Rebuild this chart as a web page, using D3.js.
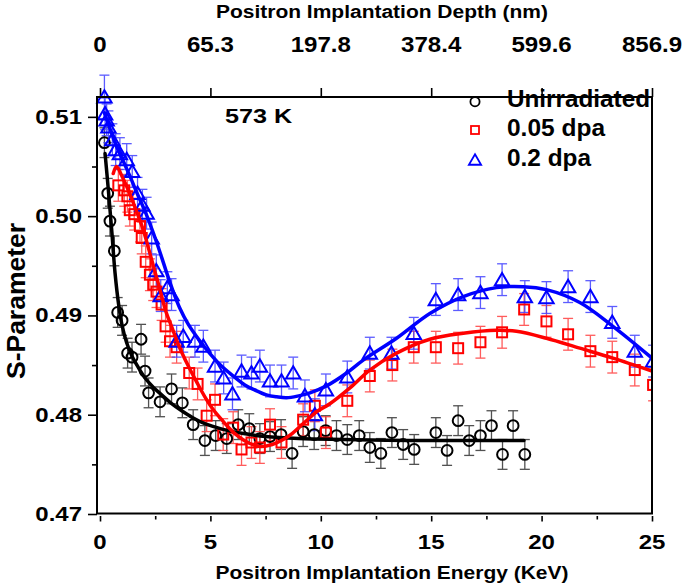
<!DOCTYPE html>
<html>
<head>
<meta charset="utf-8">
<script src="https://cdn.jsdelivr.net/npm/d3@7"></script>
<style>
  html, body { margin: 0; padding: 0; background: #fff; }
  svg { display: block; }
  text { font-family: "Liberation Sans", Arial, sans-serif; font-weight: bold; fill: #000; }
</style>
</head>
<body>
<svg id="chart" width="685" height="588"></svg>
<script>
// ---------------- data ----------------
const seriesNames = ["Unirradiated", "0.05 dpa", "0.2 dpa"];
const seriesColors = ["#000000", "#ff0000", "#0000ff"];
const errColors = ["#333333", "#ff4040", "#4040ff"];

// [energy keV, S-parameter]
const unirradiated = [
  [0.2,0.5074],[0.35,0.5023],[0.45,0.4995],[0.65,0.4965],[0.8,0.4903],[1.0,0.4895],
  [1.25,0.4862],[1.45,0.4858],[1.86,0.4876],[2.04,0.4844],[2.2,0.4822],[2.72,0.4813],
  [3.24,0.4826],[3.73,0.4812],[4.22,0.4790],[4.75,0.4774],[5.24,0.4779],[5.74,0.4776],
  [6.26,0.4790],[6.76,0.4786],[7.24,0.4776],[7.7,0.4778],[8.2,0.4780],[8.7,0.4761],
  [9.2,0.4783],[9.7,0.4780],[10.22,0.4784],[10.71,0.4779],[11.2,0.4775],[11.74,0.4779],
  [12.22,0.4767],[12.72,0.4761],[13.22,0.4782],[13.73,0.4770],[14.23,0.4765],
  [15.21,0.4782],[15.72,0.4764],[16.22,0.4794],[16.72,0.4774],[17.23,0.4779],
  [17.73,0.4789],[18.23,0.4760],[18.71,0.4789],[19.24,0.4760]
];
const dpa005 = [
  [0.83,0.5031],[1.1,0.5026],[1.24,0.5020],[1.35,0.5006],[1.55,0.5002],[1.81,0.4990],
  [1.89,0.4978],[2.07,0.4954],[2.26,0.4941],[2.41,0.4931],[2.56,0.4924],[2.79,0.4911],
  [2.97,0.4889],[3.17,0.4874],[3.47,0.4868],[4.04,0.4842],[4.42,0.4831],[4.83,0.4799],
  [5.21,0.4815],[5.58,0.4780],[6.03,0.4787],[6.41,0.4765],[6.86,0.4772],[7.24,0.4767],
  [7.7,0.4790],[8.22,0.4772],[9.2,0.4795],[9.73,0.4809],[10.23,0.4782],[11.2,0.4814],
  [12.22,0.4839],[13.24,0.4850],[14.21,0.4868],[15.21,0.4868],[16.22,0.4867],
  [17.23,0.4873],[18.21,0.4883],[19.21,0.4906],[20.22,0.4894],[21.2,0.4881],
  [22.21,0.4864],[23.2,0.4858],[24.22,0.4845],[25.05,0.4830]
];
const dpa02 = [
  [0.2,0.5120],[0.23,0.5103],[0.3,0.5097],[0.38,0.5090],[0.56,0.5077],[0.71,0.5067],
  [0.9,0.5063],[1.21,0.5057],[1.46,0.5045],[1.7,0.5023],[1.92,0.5011],[2.11,0.5003],
  [2.34,0.4978],[2.55,0.4945],[2.75,0.4920],[3.05,0.4928],[3.24,0.4921],[3.47,0.4874],
  [3.77,0.4879],[4.3,0.4874],[4.68,0.4869],[5.21,0.4849],[5.6,0.4837],[6.0,0.4821],
  [6.41,0.4844],[6.86,0.4842],[7.24,0.4849],[7.7,0.4834],[8.22,0.4834],[8.75,0.4842],
  [9.28,0.4819],[9.73,0.4800],[10.23,0.4825],[11.2,0.4838],[12.22,0.4862],[13.2,0.4862],
  [14.21,0.4882],[15.21,0.4916],[16.22,0.4921],[17.23,0.4923],[18.21,0.4936],
  [19.24,0.4919],[20.22,0.4918],[21.2,0.4929],[22.21,0.4919],[23.2,0.4893],
  [24.22,0.4864],[25.05,0.4854]
];
// error bar half-widths
const errUnirr = 0.0015;
const err005 = 0.0016;
const err02 = [0.0022]; // first point, rest use errDefault02
const errDefault02 = 0.0016;

// fitted curves
const fitUnirr = [
  [0.23,0.5063],[0.38,0.5026],[0.53,0.4986],[0.68,0.4943],[0.85,0.4910],[1.0,0.4890],
  [1.2,0.4873],[1.43,0.4860],[1.7,0.4849],[2.04,0.4837],[2.4,0.4828],[2.79,0.4820],
  [3.2,0.4812],[3.7,0.4804],[4.2,0.4797],[4.75,0.4791],[5.3,0.4787],[5.8,0.4784],
  [6.5,0.4781],[7.5,0.4778],[9.0,0.4776],[11.0,0.4775],[14.0,0.4774],[17.0,0.4774],[19.2,0.4774]
];
const fit005 = [
  [0.6,0.5043],[0.75,0.5050],[0.98,0.5041],[1.36,0.5022],[1.7,0.5002],[1.96,0.4986],
  [2.34,0.4956],[2.64,0.4932],[3.0,0.4903],[3.24,0.4889],[3.6,0.4868],[4.0,0.4849],
  [4.4,0.4832],[4.75,0.4818],[5.1,0.4806],[5.51,0.4795],[6.11,0.4781],[6.79,0.4771],
  [7.3,0.4768],[7.8,0.4770],[8.3,0.4775],[8.7,0.4781],[9.05,0.4788],[9.4,0.4795],
  [9.81,0.4803],[10.41,0.4811],[11.32,0.4827],[12.22,0.4845],[13.43,0.4862],
  [14.94,0.4876],[16.45,0.4882],[17.95,0.4885],[18.86,0.4884],[20.22,0.4877],
  [21.73,0.4867],[23.23,0.4857],[25.0,0.4844]
];
const fit02 = [
  [0.2,0.5104],[0.5,0.5085],[0.75,0.5070],[1.0,0.5058],[1.36,0.5040],[1.7,0.5022],
  [2.0,0.5007],[2.3,0.4990],[2.56,0.4974],[2.8,0.4958],[3.02,0.4943],[3.3,0.4925],
  [3.6,0.4908],[4.0,0.4891],[4.5,0.4875],[5.0,0.4861],[5.5,0.4849],[6.03,0.4839],
  [6.56,0.4830],[7.0,0.4825],[7.54,0.4820],[8.0,0.4818],[8.45,0.4817],[9.0,0.4819],
  [9.51,0.4822],[10.26,0.4829],[11.17,0.4842],[11.92,0.4855],[13.43,0.4877],
  [14.94,0.4902],[16.45,0.4919],[17.95,0.4928],[19.16,0.4929],[20.22,0.4926],
  [21.73,0.4913],[23.23,0.4889],[25.0,0.4857]
];

const xMajorTicks = [0, 5, 10, 15, 20, 25];
const xMinorTicks = [2.5, 7.5, 12.5, 17.5, 22.5];
const yMajorTicks = [0.47, 0.48, 0.49, 0.50, 0.51];
const yMinorTicks = [0.475, 0.485, 0.495, 0.505];
const yTickLabels = ["0.47", "0.48", "0.49", "0.50", "0.51"];
const topTickLabels = ["0", "65.3", "197.8", "378.4", "599.6", "856.9"];

// ---------------- layout ----------------
const svg = d3.select("#chart");
const L = 97, R = 652, T = 97, B = 513.5;
const x = d3.scaleLinear().domain([-0.136, 25]).range([L, R]);
const y = d3.scaleLinear().domain([0.47, 0.512]).range([514, T]);

svg.append("defs").append("clipPath").attr("id", "clipR")
  .append("rect").attr("x", 0).attr("y", 0).attr("width", R).attr("height", 588);

function stext(g, px, py, str, size, anchor, sx) {
  return g.append("text")
    .attr("transform", `translate(${px},${py}) scale(${sx},1)`)
    .attr("text-anchor", anchor)
    .style("font-size", size + "px")
    .text(str);
}

// ---- axes ----
const yAxisMajor = d3.axisLeft(y).tickValues(yMajorTicks).tickSize(9).tickSizeOuter(0).tickFormat("");
const yAxisMinor = d3.axisLeft(y).tickValues(yMinorTicks).tickSize(5).tickSizeOuter(0).tickFormat("");
const gy1 = svg.append("g").attr("transform", `translate(${L},0)`).call(yAxisMajor);
const gy2 = svg.append("g").attr("transform", `translate(${L},0)`).call(yAxisMinor);

const xAxisMajor = d3.axisBottom(x).tickValues(xMajorTicks).tickSize(5.5).tickSizeOuter(0).tickFormat("");
const xAxisMinor = d3.axisBottom(x).tickValues(xMinorTicks).tickSize(3.5).tickSizeOuter(0).tickFormat("");
const gx1 = svg.append("g").attr("transform", `translate(0,516)`).call(xAxisMajor);
const gx2 = svg.append("g").attr("transform", `translate(0,516)`).call(xAxisMinor);

const xTop = d3.axisTop(x).tickValues(xMajorTicks).tickSize(9).tickSizeOuter(0).tickFormat("");
const gt = svg.append("g").attr("transform", `translate(0,${T})`).call(xTop);

[gy1, gy2, gx1, gx2, gt].forEach(g => {
  g.select(".domain").remove();
  g.selectAll(".tick line").attr("stroke", "#000").attr("stroke-width", 1.6);
});

// tick labels
const lab = svg.append("g");
yMajorTicks.forEach((v, i) => stext(lab, 82, y(v) + 7, yTickLabels[i], 20, "end", 1.2));
xMajorTicks.forEach(v => stext(lab, x(v), 549, String(v), 20, "middle", 1.2));
xMajorTicks.forEach((v, i) => stext(lab, x(v), 52, topTickLabels[i], 21.5, "middle", 1.12));

// axis titles
lab.append("text").attr("x", 392).attr("y", 578.5).attr("text-anchor", "middle")
  .style("font-size", "17.5px").attr("textLength", 353).attr("lengthAdjust", "spacingAndGlyphs")
  .text("Positron Implantation Energy (KeV)");
lab.append("text").attr("x", 382).attr("y", 18).attr("text-anchor", "middle")
  .style("font-size", "18px").attr("textLength", 332).attr("lengthAdjust", "spacingAndGlyphs")
  .text("Positron Implantation Depth (nm)");
lab.append("text").attr("transform", "translate(25,301) scale(1.15,1) rotate(-90)")
  .attr("text-anchor", "middle").style("font-size", "22px")
  .attr("textLength", 156).attr("lengthAdjust", "spacingAndGlyphs")
  .text("S-Parameter");

// annotation
stext(lab, 225, 122.7, "573 K", 21, "start", 1.2);

// ---- markers ----
const plot = svg.append("g").attr("clip-path", "url(#clipR)");

function triPath(s) {
  const w = 7.2 * s, h1 = 6.8 * s, h2 = 5.6 * s;
  return `M0,${-h1}L${w},${h2}L${-w},${h2}Z`;
}

function drawErr(g, data, errFn, color) {
  const cw = 5;
  data.forEach((d, i) => {
    const e = errFn(i);
    const cx = x(d[0]), y1 = y(d[1] - e), y2 = y(d[1] + e);
    g.append("line").attr("x1", cx).attr("x2", cx).attr("y1", y1).attr("y2", y2);
    g.append("line").attr("x1", cx - cw).attr("x2", cx + cw).attr("y1", y1).attr("y2", y1);
    g.append("line").attr("x1", cx - cw).attr("x2", cx + cw).attr("y1", y2).attr("y2", y2);
  });
  g.attr("stroke", color).attr("stroke-width", 1.3).attr("opacity", 0.85);
}

drawErr(plot.append("g"), unirradiated, () => errUnirr, errColors[0]);
drawErr(plot.append("g"), dpa005, () => err005, errColors[1]);
drawErr(plot.append("g"), dpa02, i => (i < err02.length ? err02[i] : errDefault02), errColors[2]);

plot.append("g").selectAll("circle").data(unirradiated).join("circle")
  .attr("cx", d => x(d[0])).attr("cy", d => y(d[1])).attr("r", 5.4)
  .attr("fill", "none").attr("stroke", seriesColors[0]).attr("stroke-width", 2);

plot.append("g").selectAll("rect").data(dpa005).join("rect")
  .attr("x", d => x(d[0]) - 5).attr("y", d => y(d[1]) - 5).attr("width", 10).attr("height", 10)
  .attr("fill", "none").attr("stroke", seriesColors[1]).attr("stroke-width", 2);

plot.append("g").selectAll("path").data(dpa02).join("path")
  .attr("transform", d => `translate(${x(d[0])},${y(d[1])})`).attr("d", triPath(1))
  .attr("fill", "none").attr("stroke", seriesColors[2]).attr("stroke-width", 2).attr("stroke-linejoin", "miter");

// ---- fit lines ----
const line = d3.line().x(d => x(d[0])).y(d => y(d[1])).curve(d3.curveCatmullRom.alpha(0.5));
[fitUnirr, fit005, fit02].forEach((f, i) => {
  plot.append("path").datum(f).attr("d", line).attr("fill", "none")
    .attr("stroke", seriesColors[i]).attr("stroke-width", 3.5).attr("stroke-linecap", "round");
});

// ---- frame ----
svg.append("rect").attr("x", L).attr("y", T).attr("width", R - L).attr("height", B - T)
  .attr("fill", "none").attr("stroke", "#000").attr("stroke-width", 2);

// ---- legend ----
const leg = svg.append("g");
const legY = [101.7, 130, 160];
leg.append("circle").attr("cx", 475).attr("cy", legY[0]).attr("r", 4.6)
  .attr("fill", "none").attr("stroke", seriesColors[0]).attr("stroke-width", 1.8);
leg.append("rect").attr("x", 471).attr("y", legY[1] - 4).attr("width", 8).attr("height", 8)
  .attr("fill", "none").attr("stroke", seriesColors[1]).attr("stroke-width", 1.8);
leg.append("path").attr("transform", `translate(475,${legY[2]})`).attr("d", triPath(0.85))
  .attr("fill", "none").attr("stroke", seriesColors[2]).attr("stroke-width", 1.8);
const legLens = [143, 98, 84];
seriesNames.forEach((n, i) => {
  leg.append("text").attr("x", 507).attr("y", legY[i] + 5.5 - (i === 0 ? 0.5 : 0))
    .style("font-size", "23px").attr("textLength", legLens[i]).attr("lengthAdjust", "spacingAndGlyphs")
    .text(n);
});
</script>
</body>
</html>
